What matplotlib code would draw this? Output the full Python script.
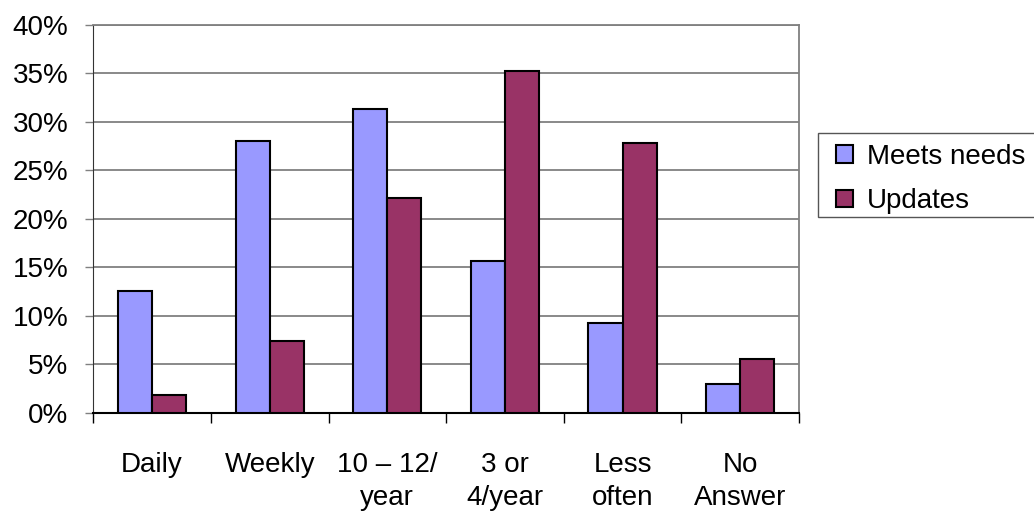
import numpy as np
import matplotlib.pyplot as plt
from matplotlib.patches import Rectangle
from matplotlib.ticker import FuncFormatter

plt.rcParams['font.family'] = ['Liberation Sans', 'DejaVu Sans']

categories = ['Daily', 'Weekly', '10 \u2013 12/\nyear', '3 or\n4/year', 'Less\noften', 'No\nAnswer']
meets_needs = [12.6, 28.0, 31.3, 15.7, 9.3, 3.0]
updates = [1.8, 7.4, 22.2, 35.3, 27.8, 5.5]

W, H = 1034, 511
fig = plt.figure(figsize=(W/100, H/100), dpi=100)
ax = fig.add_axes([0.0902, 0.1924, 0.6825, 0.7587])

x = np.arange(len(categories))
w = 0.29
ax.bar(x - w/2, meets_needs, w, color='#9999FF', edgecolor='black', linewidth=1.5,
       label='Meets needs', zorder=3)
ax.bar(x + w/2, updates, w, color='#993366', edgecolor='black', linewidth=1.5,
       label='Updates', zorder=3)

ax.set_xlim(-0.5, len(categories) - 0.5)
ax.set_ylim(0, 40)
ax.set_yticks(np.arange(0, 41, 5))
ax.yaxis.set_major_formatter(FuncFormatter(lambda v, p: '%d%%' % v))
ax.yaxis.grid(True, color='#808080', linewidth=1.3, zorder=0)

# labels at centres, tick marks between groups
ax.set_xticks(x)
ax.set_xticklabels(categories, fontsize=20, linespacing=1.35, va='top')
ax.set_xticks(np.arange(-0.5, len(categories), 1), minor=True)
ax.tick_params(axis='x', which='major', length=0, pad=28)
ax.tick_params(axis='x', which='minor', length=7.5, width=1, color='black')
ax.tick_params(axis='y', length=6, width=1, color='#808080', labelsize=20, pad=12)

for s in ['top', 'right']:
    ax.spines[s].set_color('#808080')
    ax.spines[s].set_linewidth(1.3)
ax.spines['left'].set_color('#333333')
ax.spines['bottom'].set_color('black')
ax.spines['bottom'].set_linewidth(1.5)

# legend box runs off the right edge, as in the original
fig.patches.append(Rectangle((818/W, 1 - 217/H), 240/W, 84/H, transform=fig.transFigure,
                             facecolor='white', edgecolor='#555555', linewidth=1.0))
leg = fig.legend(loc='upper left', bbox_to_anchor=(836/W, 1 - 144/H), fontsize=20,
                 frameon=False, handlelength=0.6, handleheight=0.6, handletextpad=0.5,
                 borderpad=0, labelspacing=0.66, borderaxespad=0)

fig.savefig('out.png', dpi=100)
